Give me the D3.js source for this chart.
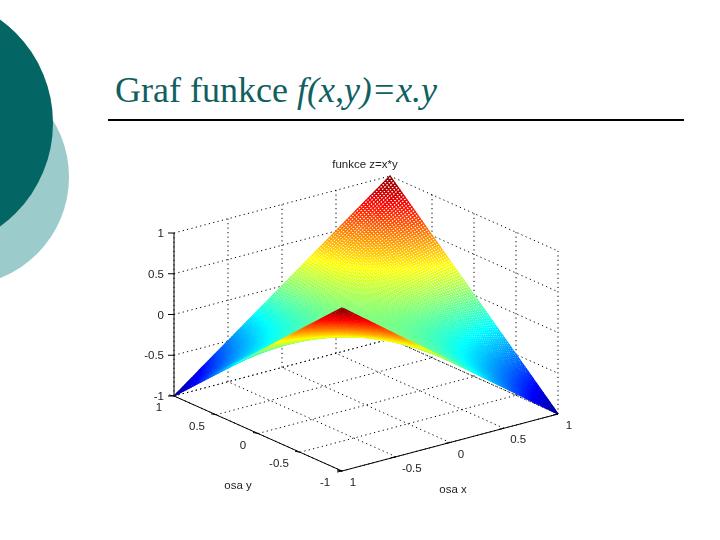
<!DOCTYPE html>
<html><head><meta charset="utf-8">
<script src="https://cdn.jsdelivr.net/npm/d3@7"></script>
<style>html,body{margin:0;padding:0;background:#fff}svg{display:block}
text{font-family:"Liberation Sans",Arial,sans-serif;fill:#222}</style></head>
<body><svg id="c" width="720" height="540"></svg>
<script>
const xTicks=[-1,-0.5,0,0.5,1];
const yTicks=[-1,-0.5,0,0.5,1];
const zTicks=[-1,-0.5,0,0.5,1];
const xLabels=["1","-0.5","0","0.5","1"];
const yLabels=["-1","-0.5","0","0.5","1"];
const zLabels=["-1","-0.5","0","0.5","1"];
// surface heights read at the tick crossings; rows follow yTicks, columns xTicks
const row0=[1,0.5,0,-0.5,-1];
const row1=[0.5,0.25,0,-0.25,-0.5];
const row2=[0,0,0,0,0];
const row3=[-0.5,-0.25,0,0.25,0.5];
const row4=[-1,-0.5,0,0.5,1];
const zRows=[row0,row1,row2,row3,row4];
const jetStops=[-1,-0.75,-0.25,0.25,0.75,1];
const jetColors=["#00008f","#0000ff","#00ffff","#ffff00","#ff0000","#800000"];
const title1="Graf funkce ", title2="f(x,y)=x.y", chartTitle="funkce z=x*y", xName="osa x", yName="osa y";

const svg=d3.select("#c");
const defs=svg.append("defs");
defs.append("filter").attr("id","soft").attr("x",0).attr("y",0).attr("width",1).attr("height",1)
  .attr("filterUnits","objectBoundingBox").append("feGaussianBlur").attr("stdDeviation",0.4);
// oblique box projection
const xToH=d3.scaleLinear([-1,1],[0,216]), xToV=d3.scaleLinear([-1,1],[0,-57]);
const yToH=d3.scaleLinear([-1,1],[0,-168]), yToV=d3.scaleLinear([-1,1],[0,-75]);
const zToV=d3.scaleLinear([-1,1],[0,-163]);
const P=(x,y,z)=>[342+xToH(x)+yToH(y),471+xToV(x)+yToV(y)+zToV(z)];
const depth=(x,y,z)=>-6846*x-8802*y+6444*z;
const jet=d3.scaleLinear(jetStops,jetColors).clamp(true);

// slide decoration
svg.append("circle").attr("cx",-39.4).attr("cy",177).attr("r",108.4).attr("fill","#9ccbcc");
svg.append("circle").attr("cx",-74.6).attr("cy",123).attr("r",127.6).attr("fill","#036664");
const t=svg.append("text").attr("x",115).attr("y",102).style("font-family",'"Liberation Serif","Times New Roman",serif')
 .style("font-size","36px").style("fill","#10605f");
t.append("tspan").attr("xml:space","preserve").text(title1);
t.append("tspan").style("font-style","italic").text(title2);
svg.append("line").attr("x1",108).attr("x2",684).attr("y1",120).attr("y2",120).attr("stroke","#000").attr("stroke-width",2);

const chart=svg.append("g").attr("filter","url(#soft)");
chart.append("rect").attr("x",130).attr("y",150).attr("width",460).attr("height",350).attr("fill","#fff");

// dotted grid
const grid=chart.append("g").attr("fill","none").attr("stroke","#000").attr("stroke-width",1).attr("stroke-dasharray","1.2 3.3");
const seg=(a,b)=>grid.append("path").attr("d",d3.line()([a,b]));
xTicks.forEach(x=>{seg(P(x,-1,-1),P(x,1,-1));seg(P(x,1,-1),P(x,1,1));});
yTicks.forEach(y=>{seg(P(-1,y,-1),P(1,y,-1));seg(P(1,y,-1),P(1,y,1));});
zTicks.forEach(z=>{seg(P(-1,1,z),P(1,1,z));seg(P(1,1,z),P(1,-1,z));});

// surface mesh: each tick cell is subdivided for drawing
const DIV=25;
const iX=d3.scaleLinear(xTicks,d3.range(xTicks.length)), iY=d3.scaleLinear(yTicks,d3.range(yTicks.length));
const height=(x,y)=>{
  const fx=iX(x),fy=iY(y),i=Math.min(Math.floor(fx),xTicks.length-2),j=Math.min(Math.floor(fy),yTicks.length-2),u=fx-i,v=fy-j;
  return (1-v)*((1-u)*zRows[j][i]+u*zRows[j][i+1])+v*((1-u)*zRows[j+1][i]+u*zRows[j+1][i+1]);
};
const steps=(xTicks.length-1)*DIV;
const gs=d3.scaleLinear([0,steps],[-1,1]);
const quads=[];
for(let a=0;a<steps;a++)for(let b=0;b<steps;b++){
  const c=[[a,b],[a+1,b],[a+1,b+1],[a,b+1]].map(([p,q])=>{const x=gs(p),y=gs(q);return [x,y,height(x,y)];});
  const m=d3.mean(c,d=>d[2]);
  quads.push({pts:c.map(d=>P(d[0],d[1],d[2])),z:m,d:d3.mean(c,d=>depth(d[0],d[1],d[2]))});
}
quads.sort((p,q)=>d3.ascending(p.d,q.d));
const ln=d3.line();
chart.append("g").attr("fill","#fff").attr("stroke-width",1.25).selectAll("path").data(quads).join("path")
 .attr("d",d=>ln(d.pts)+"Z").attr("stroke",d=>jet(d.z));

// axes
const ax=chart.append("g").attr("stroke","#000").attr("stroke-width",1).attr("fill","none");
ax.append("path").attr("d",d3.line()([P(-1,1,1),P(-1,1,-1),P(-1,-1,-1),P(1,-1,-1)]));
zTicks.forEach(z=>{const p=P(-1,1,z);ax.append("path").attr("d",d3.line()([p,[p[0]-6,p[1]]]));});
xTicks.forEach(x=>{const p=P(x,-1,-1);ax.append("path").attr("d",d3.line()([p,[p[0]-5,p[1]+1]]));});
yTicks.forEach(y=>{const p=P(-1,y,-1);ax.append("path").attr("d",d3.line()([p,[p[0]-5,p[1]-1]]));});

const label=(s,x,y,anchor)=>chart.append("text").attr("x",x).attr("y",y).attr("text-anchor",anchor||"middle").attr("dominant-baseline","central").style("font-size","11.5px").text(s);
zTicks.forEach((z,i)=>{const p=P(-1,1,z);label(zLabels[i],p[0]-10,p[1],"end");});
xTicks.forEach((x,i)=>{const p=P(x,-1,-1);label(xLabels[i],p[0]+11+(xLabels[i].length-1)*1.6,p[1]+11);});
yTicks.forEach((y,i)=>{const p=P(-1,y,-1);label(yLabels[i],p[0]-15-(yLabels[i].length-1)*2,p[1]+11);});
label(chartTitle,365,164);
label(xName,453,489);
label(yName,238,485);
</script></body></html>
